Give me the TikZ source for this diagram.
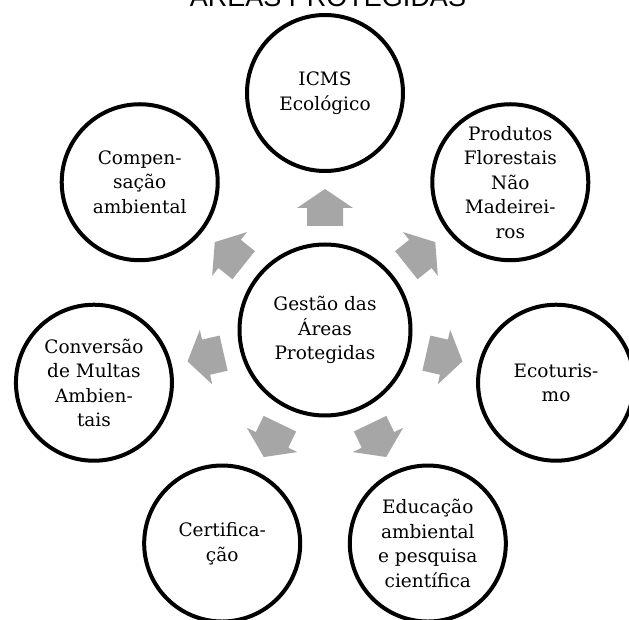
\documentclass[tikz,border=0pt]{standalone}
\usepackage{fontspec}
\newfontfamily\titlefont{Liberation Sans}
\newfontfamily\diagfam{DejaVu Serif}
\usetikzlibrary{calc}
\definecolor{arrowgray}{RGB}{166,166,166}
\newcommand\diagfont{\diagfam\fontsize{18.5}{24.5}\selectfont}
\tikzset{
  bubble/.style={circle, draw=black, line width=4pt, fill=white, inner sep=0pt,
    minimum size=156pt, align=center, font=\diagfont},
  hub/.style={bubble, minimum size=171pt},
  blockarrow/.style={fill=arrowgray, draw=none},
}
\begin{document}
\begin{tikzpicture}[x=1pt,y=1pt]
\useasboundingbox (0,0) rectangle (629,619);
\clip (0,0) rectangle (629,619);
\fill[white] (0,0) rectangle (629,619);
\node[anchor=base, inner sep=0pt, font=\titlefont\fontsize{27}{32}\selectfont] (title) at (328,612) {ÁREAS PROTEGIDAS};
\node[hub] (c) at (325,289) {Gestão das\\Áreas\\Protegidas};
\foreach \k in {0,...,6} {
  \fill[blockarrow, shift={(c.center)}, rotate={90-\k*360/7}]
    (104,-18) -- (122,-18) -- (122,-28) -- (141,0) -- (122,28) -- (122,18) -- (104,18) -- cycle;
}
\node[bubble] (icms) at ($(c)+(90:237)$) {ICMS\\Ecológico};
\node[bubble] (pfnm) at ($(c)+(38.571:237)$) {Produtos\\Florestais\\Não\\Madeirei-\\ros};
\node[bubble] (eco) at ($(c)+(-12.857:237)$) {Ecoturis-\\mo};
\node[bubble] (edu) at ($(c)+(-64.286:237)$) {Educação\\ambiental\\e pesquisa\\científica};
\node[bubble] (cert) at ($(c)+(-115.714:237)$) {Certifica-\\ção};
\node[bubble] (conv) at ($(c)+(-167.143:237)$) {Conversão\\de Multas\\Ambien-\\tais};
\node[bubble] (comp) at ($(c)+(141.429:237)$) {Compen-\\sação\\ambiental};
\end{tikzpicture}
\end{document}
